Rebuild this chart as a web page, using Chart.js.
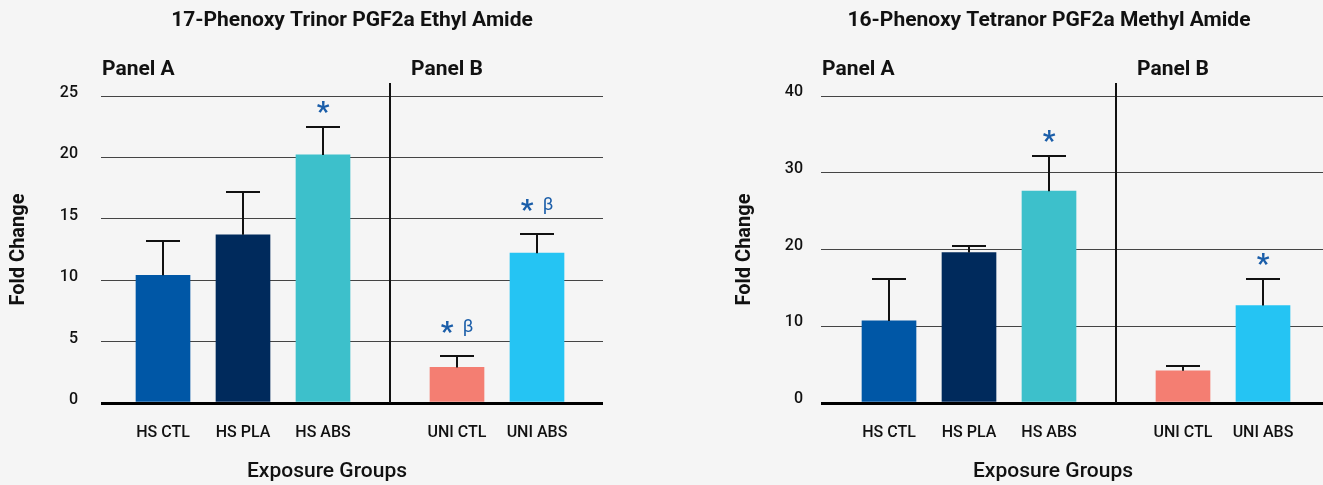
<!DOCTYPE html>
<html>
<head>
<meta charset="utf-8">
<script src="https://cdn.jsdelivr.net/npm/chart.js@4.4.1/dist/chart.umd.min.js"></script>
<style>
  html, body { margin: 0; padding: 0; background: #f5f5f5; overflow: hidden; }
  #wrap { position: relative; width: 1323px; height: 485px; }
  canvas { position: absolute; top: 0; }
  #ethyl { left: 0; }
  #methyl { left: 660px; }
</style>
</head>
<body>
<div id="wrap">
  <canvas id="ethyl" width="660" height="485"></canvas>
  <canvas id="methyl" width="663" height="485"></canvas>
</div>
<script>
// groups and where they sit on the x axis (panel B is pushed right)
const groups = ['HS CTL', 'HS PLA', 'HS ABS', 'UNI CTL', 'UNI ABS'];
const groupPos = [1, 2, 3, 4.675, 5.675];
const panelSplit = 3.84;

// 17-Phenoxy Trinor PGF2a Ethyl Amide
const ethylMean = [10.4, 13.7, 20.2, 2.9, 12.2];
const ethylErr = [2.8, 3.5, 2.25, 0.95, 1.55];
const ethylSig = ['', '', '*', '* β', '* β'];
const ethylTicks = [0, 5, 10, 15, 20, 25];

// 16-Phenoxy Tetranor PGF2a Methyl Amide
const methylMean = [10.7, 19.6, 27.6, 4.2, 12.7];
const methylErr = [5.5, 0.85, 4.6, 0.6, 3.5];
const methylSig = ['', '', '*', '', '*'];
const methylTicks = [0, 10, 20, 30, 40];

const barColors = ['#0057a6', '#002a5c', '#3dc0cb', '#f47e72', '#25c4f3'];
const ink = '#111';

// error bars, panel divider, significance marks and the free text
const deco = {
  id: 'deco',
  afterDatasetsDraw(chart, args, o) {
    const { ctx, chartArea: area, scales: { x, y } } = chart;
    const bars = chart.getDatasetMeta(0).data;
    ctx.save();
    ctx.strokeStyle = ink;
    ctx.lineWidth = 2;
    const dx = Math.round(x.getPixelForValue(panelSplit));
    ctx.beginPath();
    ctx.moveTo(dx, area.top - 13);
    ctx.lineTo(dx, area.bottom);
    ctx.stroke();

    o.mean.forEach((m, i) => {
      const bx = Math.round(bars[i].x);
      const top = Math.round(y.getPixelForValue(m + o.err[i]));
      ctx.strokeStyle = ink;
      ctx.beginPath();
      ctx.moveTo(bx, bars[i].y);
      ctx.lineTo(bx, top);
      ctx.moveTo(bx - 17, top);
      ctx.lineTo(bx + 17, top);
      ctx.stroke();

      const s = o.sig[i];
      if (!s) return;
      const beta = s.includes('β');
      const cy = top - (beta ? 29 : 20);
      ctx.fillStyle = '#1b5ea9';
      ctx.textAlign = 'center';
      ctx.textBaseline = 'alphabetic';
      ctx.font = 'bold 28px Roboto';
      ctx.fillText('*', beta ? bx - 10 : bx, cy + 14);
      if (beta) {
        ctx.font = '18px Roboto';
        ctx.fillText('β', bx + 11, cy + 5);
      }
    });

    ctx.fillStyle = ink;
    ctx.textBaseline = 'alphabetic';
    ctx.textAlign = 'center';
    ctx.font = 'bold 21px Roboto';
    ctx.fillText(o.title, o.titleX, 26);
    ctx.font = '500 21px Roboto';
    ctx.fillText('Exposure Groups', o.xTitleX, 477);
    ctx.textAlign = 'left';
    ctx.font = 'bold 21px Roboto';
    ctx.fillText('Panel A', area.left + 1, area.top - 21);
    ctx.fillText('Panel B', dx + 21, area.top - 21);
    ctx.restore();
  }
};

function makeChart(id, c) {
  return new Chart(document.getElementById(id), {
    type: 'bar',
    data: {
      datasets: [{
        data: c.mean.map((v, i) => ({ x: groupPos[i], y: v })),
        backgroundColor: barColors,
        borderWidth: 0,
        barThickness: 54
      }]
    },
    options: {
      responsive: false,
      animation: false,
      layout: { padding: { top: 96, right: c.padRight, left: 0, bottom: 0 } },
      plugins: {
        legend: { display: false },
        tooltip: { enabled: false },
        deco: c
      },
      scales: {
        x: {
          type: 'linear',
          offset: false,
          min: c.xMin,
          max: c.xMax,
          afterBuildTicks: s => { s.ticks = groupPos.map(v => ({ value: v })); },
          afterFit: s => { s.height = 82; },
          ticks: {
            autoSkip: false,
            maxRotation: 0,
            padding: 20,
            color: ink,
            font: { family: 'Roboto', size: 16, weight: '500' },
            callback: (v, i) => groups[i]
          },
          grid: { display: false, drawTicks: false, offset: false },
          border: { display: false }
        },
        y: {
          min: 0,
          max: c.ticks[c.ticks.length - 1],
          afterBuildTicks: s => { s.ticks = c.ticks.map(v => ({ value: v })); },
          afterFit: s => { s.width = c.yWidth; },
          ticks: {
            padding: c.tickPad,
            labelOffset: c.labelOffset,
            color: ink,
            font: { family: 'Roboto', size: 16, weight: '500' }
          },
          grid: {
            drawTicks: false,
            color: ctx => ctx.tick && ctx.tick.value === 0 ? '#000' : '#444',
            lineWidth: ctx => ctx.tick && ctx.tick.value === 0 ? 3 : 1
          },
          border: { display: false },
          title: {
            display: true,
            text: 'Fold Change',
            color: ink,
            font: { family: 'Roboto', size: 20, weight: 'bold' },
            padding: { top: c.yTitlePad, bottom: 0 }
          }
        }
      }
    },
    plugins: [deco]
  });
}

makeChart('ethyl', {
  title: '17-Phenoxy Trinor PGF2a Ethyl Amide', titleX: 352, xTitleX: 327,
  mean: ethylMean, err: ethylErr, sig: ethylSig, ticks: ethylTicks,
  xMin: 0.225, xMax: 6.5, yWidth: 101, padRight: 57,
  tickPad: 23, labelOffset: -3, yTitlePad: 7
});

makeChart('methyl', {
  title: '16-Phenoxy Tetranor PGF2a Methyl Amide', titleX: 389, xTitleX: 393,
  mean: methylMean, err: methylErr, sig: methylSig, ticks: methylTicks,
  xMin: 0.15, xMax: 6.425, yWidth: 161, padRight: 0,
  tickPad: 18, labelOffset: -4, yTitlePad: 73
});
</script>
</body>
</html>
